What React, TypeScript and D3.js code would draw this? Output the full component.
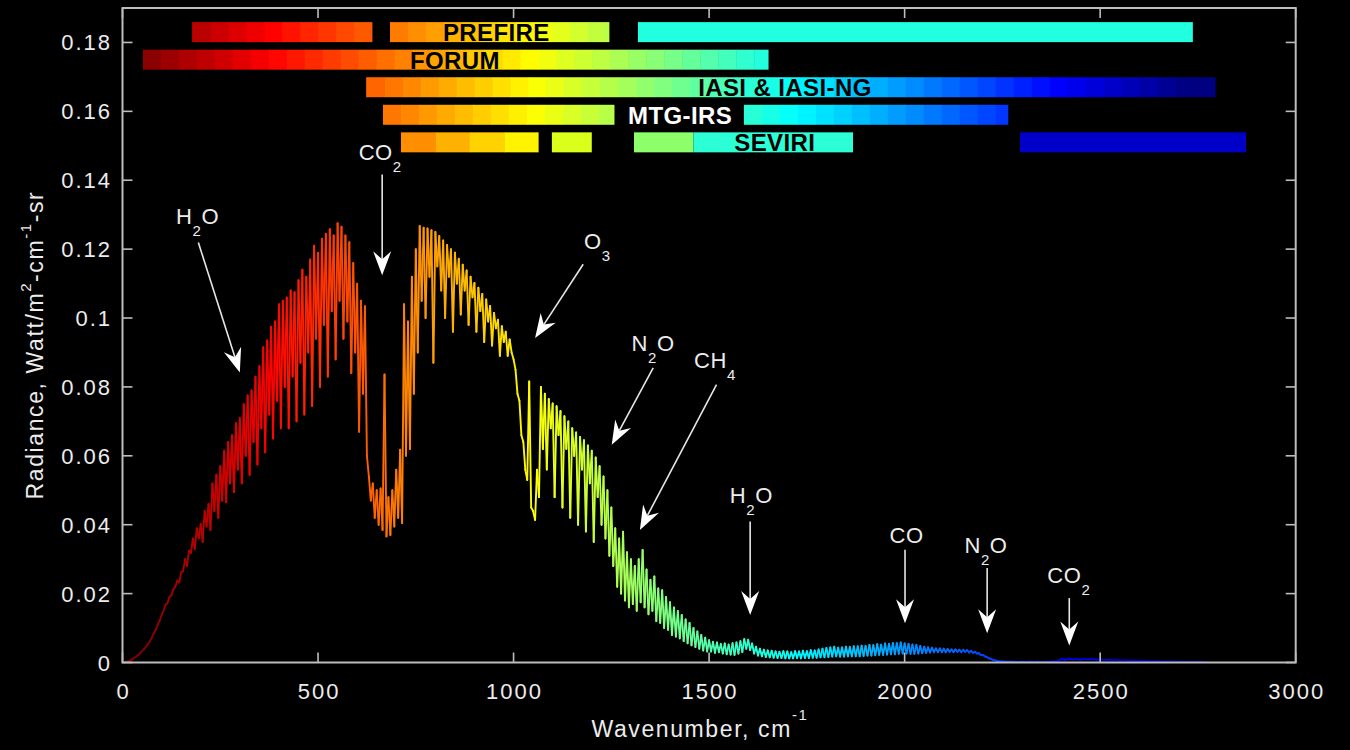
import React from "react";
import * as d3 from "d3";

const WIDTH = 1350;
const HEIGHT = 750;

// ---------- axes ----------
const X_DOMAIN = [0, 3000];
const Y_DOMAIN = [0, 0.19];
const X_TICKS = [0, 500, 1000, 1500, 2000, 2500, 3000];
const Y_TICKS = [0, 0.02, 0.04, 0.06, 0.08, 0.1, 0.12, 0.14, 0.16, 0.18];
const Y_TICK_LABELS = ["0", "0.02", "0.04", "0.06", "0.08", "0.1", "0.12", "0.14", "0.16", "0.18"];

// ---------- spectrum (radiance, W/m2-cm-1-sr) ----------
// fine part: wavenumber 0..2230 step 10; peak value at wn, trough value at wn+5
const FINE_START = 0;
const FINE_STEP = 10;
const TOP_FINE = [
  0.0000, 0.0002, 0.0006, 0.0013, 0.0022, 0.0033, 0.0046, 0.0062, 0.0085, 0.0110,
  0.0138, 0.0168, 0.0190, 0.0212, 0.0238, 0.0262, 0.0300, 0.0325, 0.0360, 0.0390,
  0.0402, 0.0440, 0.0460, 0.0520, 0.0545, 0.0570, 0.0615, 0.0640, 0.0660, 0.0695,
  0.0710, 0.0750, 0.0775, 0.0790, 0.0830, 0.0860, 0.0915, 0.0935, 0.0975, 0.0990,
  0.1040, 0.1050, 0.1060, 0.1080, 0.1075, 0.1110, 0.1140, 0.1120, 0.1170, 0.1210,
  0.1190, 0.1230, 0.1245, 0.1258, 0.1240, 0.1275, 0.1265, 0.1240, 0.1220, 0.1160,
  0.1100, 0.1050, 0.1034, 0.0540, 0.0520, 0.0500, 0.0505, 0.0836, 0.0480, 0.0500,
  0.0560, 0.0618, 0.1040, 0.0990, 0.1120, 0.1200, 0.1267, 0.1262, 0.1260, 0.1255,
  0.1250, 0.1238, 0.1225, 0.1212, 0.1200, 0.1190, 0.1172, 0.1155, 0.1138, 0.1120,
  0.1102, 0.1088, 0.1070, 0.1054, 0.1035, 0.1015, 0.0995, 0.0976, 0.0960, 0.0938,
  0.0880, 0.0780, 0.0660, 0.0560, 0.0816, 0.0440, 0.0560, 0.0800, 0.0780, 0.0765,
  0.0752, 0.0744, 0.0730, 0.0715, 0.0700, 0.0680, 0.0668, 0.0655, 0.0645, 0.0630,
  0.0615, 0.0595, 0.0570, 0.0540, 0.0500, 0.0450, 0.0390, 0.0360, 0.0380, 0.0320,
  0.0300, 0.0280, 0.0300, 0.0327, 0.0270, 0.0240, 0.0250, 0.0215, 0.0210, 0.0190,
  0.0175, 0.0160, 0.0150, 0.0138, 0.0125, 0.0115, 0.0100, 0.0090, 0.0080, 0.0072,
  0.0065, 0.0060, 0.0058, 0.0054, 0.0055, 0.0052, 0.0056, 0.0058, 0.0062, 0.0068,
  0.0066, 0.0055, 0.0046, 0.0040, 0.0037, 0.0035, 0.0034, 0.0032, 0.0031, 0.0033,
  0.0032, 0.0030, 0.0033, 0.0032, 0.0034, 0.0033, 0.0036, 0.0035, 0.0038, 0.0040,
  0.0042, 0.0044, 0.0046, 0.0043, 0.0044, 0.0046, 0.0045, 0.0047, 0.0047, 0.0049,
  0.0048, 0.0051, 0.0050, 0.0053, 0.0052, 0.0055, 0.0054, 0.0057, 0.0056, 0.0058,
  0.0055, 0.0054, 0.0052, 0.0051, 0.0048, 0.0046, 0.0044, 0.0043, 0.0041, 0.0041,
  0.0040, 0.0039, 0.0038, 0.0038, 0.0037, 0.0037, 0.0036, 0.0034, 0.0031, 0.0027,
  0.0022, 0.0016, 0.0011, 0.0007,
];
const BOT_FINE = [
  0.0001, 0.0004, 0.0009, 0.0017, 0.0027, 0.0039, 0.0053, 0.0072, 0.0095, 0.0122,
  0.0150, 0.0172, 0.0195, 0.0220, 0.0232, 0.0265, 0.0280, 0.0318, 0.0330, 0.0360,
  0.0350, 0.0395, 0.0385, 0.0440, 0.0420, 0.0470, 0.0465, 0.0520, 0.0495, 0.0560,
  0.0520, 0.0600, 0.0545, 0.0640, 0.0575, 0.0680, 0.0610, 0.0720, 0.0650, 0.0760,
  0.0680, 0.0800, 0.0680, 0.0830, 0.0700, 0.0870, 0.0720, 0.0900, 0.0745, 0.0940,
  0.0800, 0.0980, 0.0830, 0.1020, 0.0880, 0.1050, 0.0940, 0.0990, 0.0840, 0.0900,
  0.0670, 0.0780, 0.0600, 0.0470, 0.0420, 0.0400, 0.0385, 0.0366, 0.0370, 0.0395,
  0.0420, 0.0405, 0.0600, 0.0620, 0.0780, 0.0900, 0.1050, 0.1000, 0.1120, 0.0870,
  0.1150, 0.1080, 0.1000, 0.1120, 0.0960, 0.1100, 0.1010, 0.1080, 0.0980, 0.1060,
  0.0960, 0.1020, 0.0930, 0.0990, 0.0920, 0.0970, 0.0890, 0.0930, 0.0890, 0.0900,
  0.0850, 0.0760, 0.0640, 0.0530, 0.0450, 0.0414, 0.0480, 0.0620, 0.0560, 0.0680,
  0.0480, 0.0660, 0.0450, 0.0620, 0.0420, 0.0600, 0.0400, 0.0560, 0.0380, 0.0520,
  0.0350, 0.0480, 0.0400, 0.0360, 0.0310, 0.0280, 0.0220, 0.0200, 0.0180, 0.0160,
  0.0170, 0.0150, 0.0175, 0.0160, 0.0140, 0.0150, 0.0120, 0.0115, 0.0100, 0.0095,
  0.0080, 0.0075, 0.0070, 0.0062, 0.0056, 0.0050, 0.0045, 0.0040, 0.0035, 0.0032,
  0.0032, 0.0028, 0.0030, 0.0026, 0.0024, 0.0023, 0.0022, 0.0026, 0.0030, 0.0040,
  0.0036, 0.0026, 0.0020, 0.0018, 0.0016, 0.0015, 0.0014, 0.0013, 0.0013, 0.0012,
  0.0012, 0.0012, 0.0013, 0.0012, 0.0013, 0.0013, 0.0014, 0.0014, 0.0015, 0.0015,
  0.0016, 0.0017, 0.0018, 0.0017, 0.0017, 0.0018, 0.0018, 0.0018, 0.0018, 0.0019,
  0.0020, 0.0020, 0.0021, 0.0022, 0.0022, 0.0023, 0.0024, 0.0024, 0.0025, 0.0026,
  0.0026, 0.0025, 0.0025, 0.0026, 0.0027, 0.0028, 0.0029, 0.0030, 0.0030, 0.0030,
  0.0030, 0.0031, 0.0030, 0.0031, 0.0030, 0.0031, 0.0029, 0.0028, 0.0026, 0.0022,
  0.0018, 0.0012, 0.0008, 0.0005,
];
// coarse part: wavenumber 2240..2760 step 20; peak at wn, trough at wn+10
const COARSE_START = 2240;
const COARSE_STEP = 20;
const TOP_COARSE = [
  0.0004, 0.0002, 0.0002, 0.0002, 0.0002, 0.0002, 0.0002, 0.0003, 0.0010, 0.0011,
  0.0010, 0.0010, 0.0010, 0.0009, 0.0008, 0.0008, 0.0007, 0.0006, 0.0006, 0.0005,
  0.0005, 0.0004, 0.0004, 0.0003, 0.0003, 0.0002, 0.0002,
];
const BOT_COARSE = [
  0.0003, 0.0002, 0.0001, 0.0001, 0.0001, 0.0001, 0.0001, 0.0002, 0.0008, 0.0009,
  0.0008, 0.0009, 0.0008, 0.0007, 0.0007, 0.0006, 0.0006, 0.0005, 0.0005, 0.0004,
  0.0004, 0.0003, 0.0003, 0.0002, 0.0002, 0.0002, 0.0001,
];

// ---------- instrument spectral coverage (cm-1) ----------
const INSTRUMENTS = ["PREFIRE", "FORUM", "IASI & IASI-NG", "MTG-IRS", "SEVIRI"];
const ROW_RADIANCE = [0.183, 0.175, 0.167, 0.159, 0.151];
const LABEL_WN = [956, 850, 1694, 1426, 1668];
const BANDS_PREFIRE = [[178, 638], [684, 1244], [1318, 2737]];
const BANDS_FORUM = [[52, 1651]];
const BANDS_IASI = [[623, 2794]];
const BANDS_MTG = [[666, 1257], [1589, 2264]];
const BANDS_SEVIRI = [[712, 1063], [1098, 1200], [1308, 1460], [1460, 1868], [2295, 2873]];
const BANDS = [BANDS_PREFIRE, BANDS_FORUM, BANDS_IASI, BANDS_MTG, BANDS_SEVIRI];

// ---------- annotations ----------
const ANNOT_LABELS = ["H2O", "CO2", "O3", "N2O", "CH4", "H2O", "CO", "N2O", "CO2"];
const ANNOT_TEXT_WN = [192, 659, 1214, 1357, 1515, 1608, 2005, 2208, 2420];
const ANNOT_TEXT_RAD = [0.1272, 0.1458, 0.1199, 0.0903, 0.0856, 0.0464, 0.0347, 0.0318, 0.0231];
const ARROW_FROM_WN = [194, 664, 1178, 1357, 1519, 1605, 2001, 2211, 2421];
const ARROW_FROM_RAD = [0.1219, 0.1417, 0.1156, 0.0855, 0.0807, 0.0409, 0.0327, 0.0274, 0.0187];
const ARROW_TO_WN = [300, 664, 1055, 1251, 1323, 1605, 2001, 2211, 2421];
const ARROW_TO_RAD = [0.0842, 0.1124, 0.0942, 0.0632, 0.0385, 0.0138, 0.0114, 0.0085, 0.0049];

// ---------- styles ----------
const FONT = "'Liberation Sans', Arial, Helvetica, sans-serif";
const AXIS_COLOR = "#bdbdbd";
const TEXT_COLOR = "#ececec";
const CELL_WN = 46;
const BAR_PX = 20;
// flat-coloured segments, keyed "row-seg"
const FLAT_COLOR: Record<string, string> = {
  "0-2": "#22ffe0",
  "4-1": "#d9ff1a",
  "4-2": "#8cff6a",
  "4-3": "#2cffd6",
  "4-4": "#0000c8",
};
const CELL_OVERRIDE: Record<string, number> = { "4-0": 88 };

function jet(wn: number): string {
  const t = Math.max(0, Math.min(1, (2725 - wn) / 2680));
  const c = (v: number) => Math.max(0, Math.min(1, v));
  const r = c(1.5 - Math.abs(4 * t - 3));
  const g = c(1.5 - Math.abs(4 * t - 2));
  const b = c(1.5 - Math.abs(4 * t - 1));
  return d3.rgb(r * 255, g * 255, b * 255).formatHex();
}

function chem(label: string, size: number, subSize: number, shift: number) {
  const parts = label.split(/(\d+)/).filter((p) => p.length > 0);
  let down = false;
  return parts.map((p, i) => {
    const isNum = /^\d+$/.test(p);
    let dy = 0;
    if (isNum && !down) { dy = shift; down = true; }
    else if (!isNum && down) { dy = -shift; down = false; }
    return (
      <tspan key={i} dy={dy} fontSize={isNum ? subSize : size}>{p}</tspan>
    );
  });
}

export default function App() {
  const x = d3.scaleLinear().domain(X_DOMAIN).range([122.5, 1295.7]);
  const y = d3.scaleLinear().domain(Y_DOMAIN).range([662.5, 8]);
  const [x0, x1] = x.range();
  const [y0, y1] = y.range();

  // spectrum points
  const pts: [number, number][] = [];
  TOP_FINE.forEach((v, i) => {
    const wn = FINE_START + i * FINE_STEP;
    pts.push([wn, v]);
    pts.push([wn + FINE_STEP / 2, BOT_FINE[i]]);
  });
  TOP_COARSE.forEach((v, i) => {
    const wn = COARSE_START + i * COARSE_STEP;
    pts.push([wn, v]);
    pts.push([wn + COARSE_STEP / 2, BOT_COARSE[i]]);
  });
  const segs = pts.slice(1).map((p, i) => {
    const a = pts[i];
    return { a, b: p, color: jet((a[0] + p[0]) / 2) };
  });

  // bars
  const cells: { x: number; w: number; y: number; color: string }[] = [];
  BANDS.forEach((row, r) => {
    const yc = y(ROW_RADIANCE[r]);
    row.forEach(([s, e], k) => {
      const key = `${r}-${k}`;
      if (FLAT_COLOR[key]) {
        cells.push({ x: x(s), w: x(e) - x(s), y: yc - BAR_PX / 2, color: FLAT_COLOR[key] });
        return;
      }
      const step = CELL_OVERRIDE[key] || CELL_WN;
      for (let a = s; a < e - 1; a += step) {
        const b = Math.min(e, a + step);
        cells.push({ x: x(a), w: x(b) - x(a) + 0.4, y: yc - BAR_PX / 2, color: jet((a + b) / 2) });
      }
    });
  });

  const arrowHead = (fx: number, fy: number, tx: number, ty: number) => {
    const L = 24, hw = 9, notch = 8;
    const dx = tx - fx, dy = ty - fy;
    const len = Math.hypot(dx, dy);
    const ux = dx / len, uy = dy / len;
    const nx = -uy, ny = ux;
    const bx = tx - ux * L, by = ty - uy * L;
    const mx = tx - ux * (L - notch), my = ty - uy * (L - notch);
    return {
      poly: `${tx},${ty} ${bx + nx * hw},${by + ny * hw} ${mx},${my} ${bx - nx * hw},${by - ny * hw}`,
      mx, my,
    };
  };

  return (
    <svg width={WIDTH} height={HEIGHT} style={{ position: "absolute", left: 0, top: 0, background: "#000" }}
      fontFamily={FONT}>
      <rect x={0} y={0} width={WIDTH} height={HEIGHT} fill="#000" />

      {/* spectrum */}
      <g strokeWidth={1.9} strokeLinecap="round" fill="none">
        {segs.map((s, i) => (
          <line key={i} x1={x(s.a[0])} y1={y(s.a[1])} x2={x(s.b[0])} y2={y(s.b[1])} stroke={s.color} />
        ))}
      </g>

      {/* instrument bars */}
      <g>
        {cells.map((c, i) => (
          <rect key={i} x={c.x} y={c.y} width={c.w} height={BAR_PX} fill={c.color} />
        ))}
        {INSTRUMENTS.map((name, i) => (
          <text key={name} x={x(LABEL_WN[i])} y={y(ROW_RADIANCE[i]) + 9} textAnchor="middle"
            fontWeight="bold" fontSize={24} fill={name === "MTG-IRS" ? "#ffffff" : "#000000"}
            style={{ letterSpacing: "0.4px" }}>
            {name}
          </text>
        ))}
      </g>

      {/* annotations */}
      <g fill="#ffffff" stroke="none">
        {ANNOT_LABELS.map((lab, i) => {
          const fx = x(ARROW_FROM_WN[i]), fy = y(ARROW_FROM_RAD[i]);
          const tx = x(ARROW_TO_WN[i]), ty = y(ARROW_TO_RAD[i]);
          const h = arrowHead(fx, fy, tx, ty);
          return (
            <g key={i}>
              <line x1={fx} y1={fy} x2={h.mx} y2={h.my} stroke="#e6e6e6" strokeWidth={1.6} />
              <polygon points={h.poly} fill="#ffffff" />
              <text x={x(ANNOT_TEXT_WN[i])} y={y(ANNOT_TEXT_RAD[i])} textAnchor="middle" fontSize={22}
                fill={TEXT_COLOR} style={{ letterSpacing: "0.6px" }}>
                {chem(lab, 22, 15, 12)}
              </text>
            </g>
          );
        })}
      </g>

      {/* frame */}
      <rect x={x0} y={y1} width={x1 - x0} height={y0 - y1} fill="none" stroke={AXIS_COLOR} strokeWidth={2} />
      <g stroke={AXIS_COLOR} strokeWidth={1.6}>
        {X_TICKS.map((t) => (
          <g key={t}>
            <line x1={x(t)} x2={x(t)} y1={y0} y2={y0 - 10} />
            <line x1={x(t)} x2={x(t)} y1={y1} y2={y1 + 10} />
          </g>
        ))}
        {Y_TICKS.map((t) => (
          <g key={t}>
            <line x1={x0} x2={x0 + 10} y1={y(t)} y2={y(t)} />
            <line x1={x1} x2={x1 - 10} y1={y(t)} y2={y(t)} />
          </g>
        ))}
      </g>
      <g fill={TEXT_COLOR} fontSize={22} style={{ letterSpacing: "2px" }}>
        {X_TICKS.map((t) => (
          <text key={t} x={x(t) + 1} y={699} textAnchor="middle">{t}</text>
        ))}
        {Y_TICKS.map((t, i) => (
          <text key={t} x={112} y={y(t) + 8} textAnchor="end">{Y_TICK_LABELS[i]}</text>
        ))}
      </g>

      {/* axis titles */}
      <text x={700} y={737} textAnchor="middle" fontSize={23} fill={TEXT_COLOR} style={{ letterSpacing: "1.6px" }}>
        <tspan>Wavenumber, cm</tspan>
        <tspan fontSize={15} dy={-17}>-1</tspan>
      </text>
      <text transform="translate(43,345) rotate(-90)" textAnchor="middle" fontSize={23} fill={TEXT_COLOR}
        style={{ letterSpacing: "1.6px" }}>
        <tspan>Radiance, Watt/m</tspan>
        <tspan fontSize={15} dy={-12}>2</tspan>
        <tspan dy={12}>-cm</tspan>
        <tspan fontSize={15} dy={-12}>-1</tspan>
        <tspan dy={12}>-sr</tspan>
      </text>
    </svg>
  );
}
